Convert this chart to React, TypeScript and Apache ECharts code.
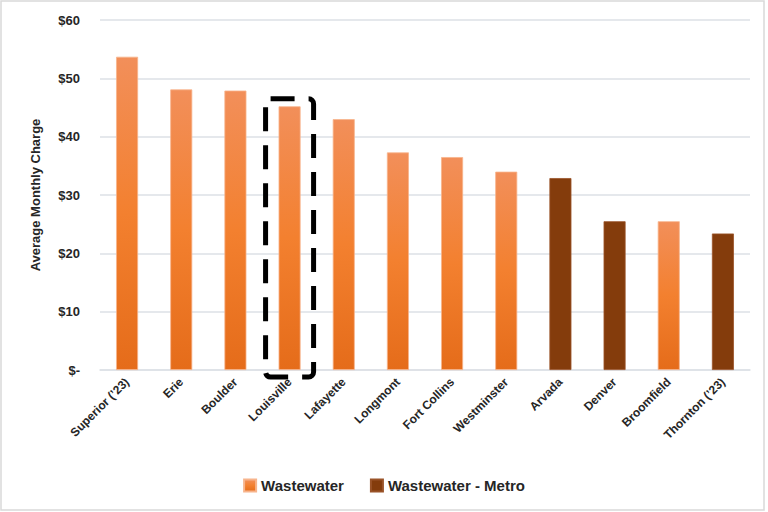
import React, { useEffect, useRef } from "react";
import * as echarts from "echarts";

const cities = [
  "Superior (’23)",
  "Erie",
  "Boulder",
  "Louisville",
  "Lafayette",
  "Longmont",
  "Fort Collins",
  "Westminster",
  "Arvada",
  "Denver",
  "Broomfield",
  "Thornton (’23)",
];

// Average monthly charge, $ per month; null where the city belongs to the other group
const wastewater = [53.7, 48.1, 47.9, 45.2, 43.0, 37.3, 36.5, 34.0, null, null, 25.5, null];
const wastewaterMetro = [null, null, null, null, null, null, null, null, 32.9, 25.5, null, 23.4];

const yTicks = [0, 10, 20, 30, 40, 50, 60];
const highlighted = "Louisville";

const FONT = "'Liberation Sans', Arial, sans-serif";

export default function App() {
  const ref = useRef<HTMLDivElement>(null);

  useEffect(() => {
    if (!ref.current) return;
    const chart = echarts.init(ref.current, undefined, { renderer: "svg" });

    const orangeFill = new echarts.graphic.LinearGradient(0, 0, 0, 1, [
      { offset: 0, color: "#F28F5A" },
      { offset: 0.5, color: "#F3802F" },
      { offset: 1, color: "#E56C1A" },
    ]);

    chart.setOption({
      animation: false,
      backgroundColor: "#ffffff",
      textStyle: { fontFamily: FONT },
      grid: { left: 100, right: 18, top: 20, bottom: 142 },
      legend: {
        bottom: 14,
        left: "center",
        itemWidth: 12,
        itemHeight: 12,
        itemGap: 26,
        icon: "rect",
        textStyle: { fontSize: 15, fontWeight: "bold", color: "#262626", fontFamily: FONT },
        data: ["Wastewater", "Wastewater - Metro"],
      },
      xAxis: {
        type: "category",
        data: cities,
        axisLine: { show: true, lineStyle: { color: "#DDE1E6", width: 1.5 } },
        axisTick: { show: false },
        axisLabel: {
          rotate: 45,
          interval: 0,
          margin: 10,
          fontSize: 12,
          fontWeight: "bold",
          color: "#262626",
          fontFamily: FONT,
        },
      },
      yAxis: {
        type: "value",
        min: yTicks[0],
        max: yTicks[yTicks.length - 1],
        interval: 10,
        name: "Average Monthly Charge",
        nameLocation: "middle",
        nameGap: 58,
        nameTextStyle: { fontSize: 13, fontWeight: "bold", color: "#262626", fontFamily: FONT },
        axisLine: { show: false },
        axisTick: { show: false },
        splitLine: { lineStyle: { color: "#DDE1E6", width: 1.5 } },
        axisLabel: {
          margin: 20,
          fontSize: 13,
          fontWeight: "bold",
          color: "#262626",
          fontFamily: FONT,
          formatter: (v: number) => (v === 0 ? "$-" : "$" + v),
        },
      },
      series: [
        {
          name: "Wastewater",
          type: "bar",
          data: wastewater,
          barWidth: 22,
          barGap: "-100%",
          itemStyle: { color: orangeFill, borderColor: "#F7B48C", borderWidth: 0.8 },
        },
        {
          name: "Wastewater - Metro",
          type: "bar",
          data: wastewaterMetro,
          barWidth: 22,
          barGap: "-100%",
          itemStyle: { color: "#843C0C", borderColor: "#9A5328", borderWidth: 0.8 },
        },
      ],
    });

    // Dashed call-out box around the highlighted city
    const idx = cities.indexOf(highlighted);
    const top = chart.convertToPixel({ xAxisIndex: 0, yAxisIndex: 0 }, [idx, 46.5]) as number[];
    const base = chart.convertToPixel({ xAxisIndex: 0, yAxisIndex: 0 }, [idx, 0]) as number[];
    const halfW = 24;

    chart.setOption({
      graphic: [
        {
          type: "rect",
          silent: true,
          shape: { x: 1, y: 1, width: 763, height: 509 },
          style: { fill: "none", stroke: "#D9D9D9", lineWidth: 1.5 },
        },
        {
          type: "rect",
          silent: true,
          z: 100,
          shape: {
            x: top[0] - halfW,
            y: top[1],
            width: halfW * 2,
            height: base[1] + 7 - top[1],
            r: 5,
          },
          style: { fill: "none", stroke: "#000000", lineWidth: 5, lineDash: [24, 14] },
        },
      ],
    });

    return () => chart.dispose();
  }, []);

  return (
    <div
      ref={ref}
      style={{ position: "fixed", left: 0, top: 0, width: 768, height: 512, background: "#fff" }}
    />
  );
}
